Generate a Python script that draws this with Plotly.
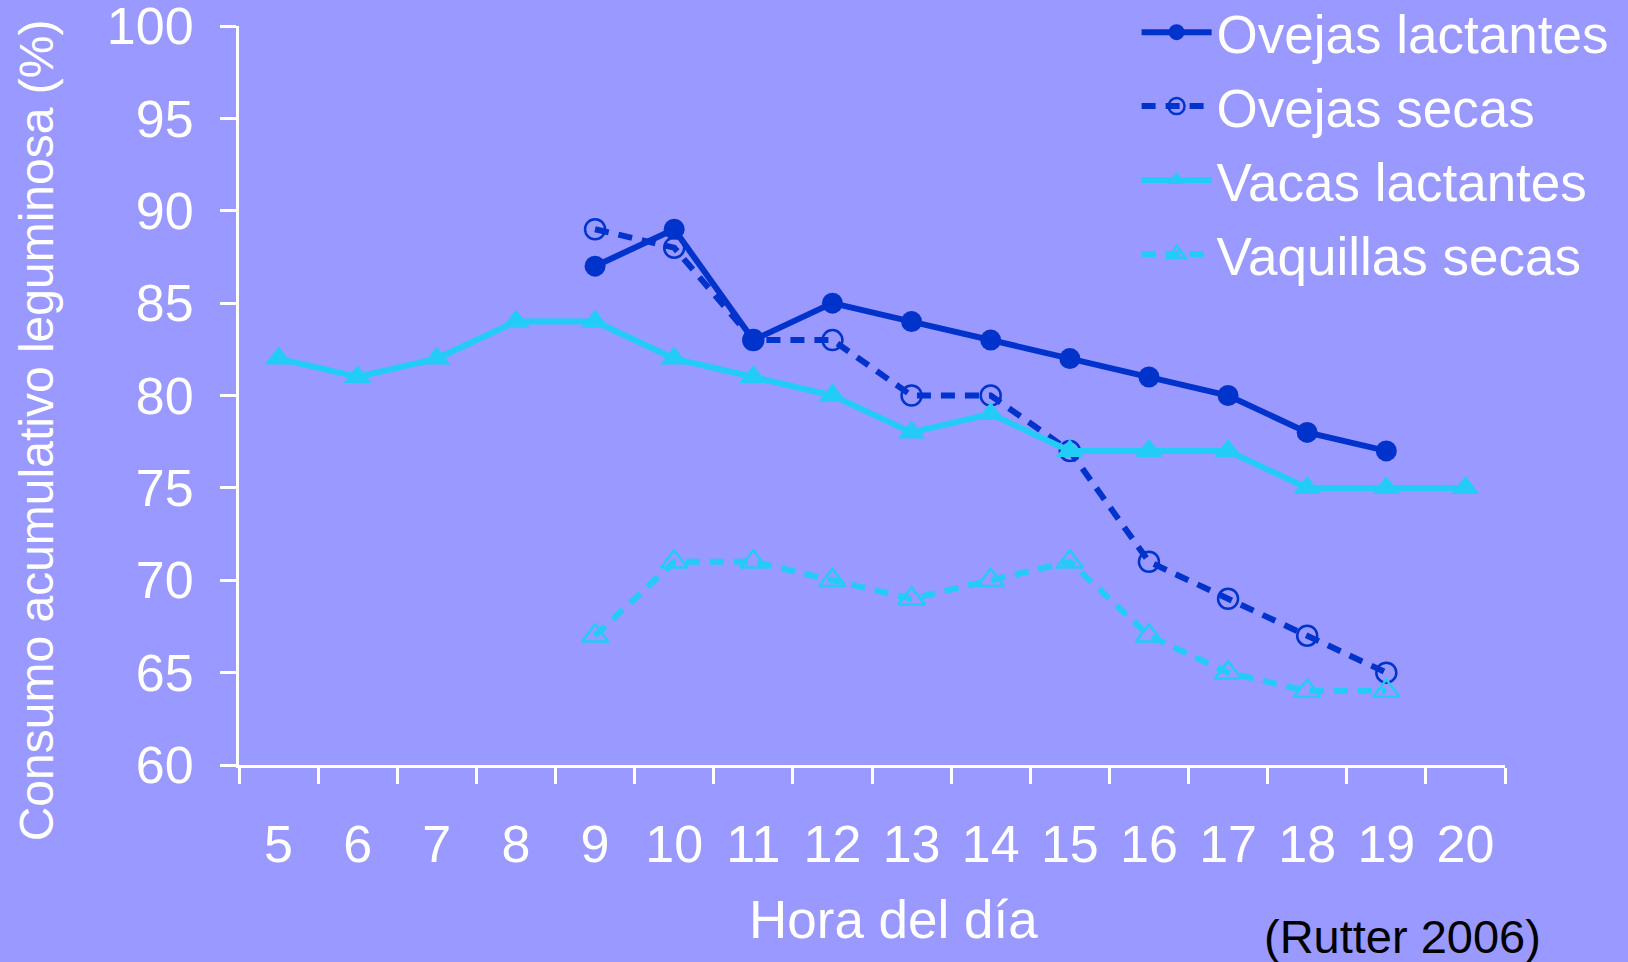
import plotly.graph_objects as go

hours = [str(h) for h in range(5, 21)]

ov_lact_x = ["9", "10", "11", "12", "13", "14", "15", "16", "17", "18", "19"]
ov_lact_y = [87, 89, 83, 85, 84, 83, 82, 81, 80, 78, 77]

ov_secas_x = ["9", "10", "11", "12", "13", "14", "15", "16", "17", "18", "19"]
ov_secas_y = [89, 88, 83, 83, 80, 80, 77, 71, 69, 67, 65]

vac_lact_x = hours
vac_lact_y = [82, 81, 82, 84, 84, 82, 81, 80, 78, 79, 77, 77, 77, 75, 75, 75]

vaq_secas_x = ["9", "10", "11", "12", "13", "14", "15", "16", "17", "18", "19"]
vaq_secas_y = [67, 71, 71, 70, 69, 70, 71, 67, 65, 64, 64]

y_ticks = [60, 65, 70, 75, 80, 85, 90, 95, 100]

BG = "#9999FF"
DARK = "#0033CC"
CYAN = "#22CCF7"
FONT = "Liberation Sans, Arial, sans-serif"

fig = go.Figure()
fig.add_trace(go.Scatter(
    x=ov_lact_x, y=ov_lact_y, name="Ovejas lactantes", mode="lines+markers",
    legendgroup="a",
    line=dict(color=DARK, width=6),
    marker=dict(symbol="circle", size=21, color=DARK)))
fig.add_trace(go.Scatter(
    x=ov_secas_x, y=ov_secas_y, name="Ovejas secas", mode="lines+markers",
    legendgroup="b",
    line=dict(color=DARK, width=6, dash="14px,10px"),
    marker=dict(symbol="circle-open", size=20, color=DARK, line=dict(width=2.5, color=DARK))))
fig.add_trace(go.Scatter(
    x=vac_lact_x, y=vac_lact_y, name="Vacas lactantes", mode="lines+markers",
    legendgroup="c",
    line=dict(color=CYAN, width=6),
    marker=dict(symbol="triangle-up", size=24, color=CYAN)))
fig.add_trace(go.Scatter(
    x=vaq_secas_x, y=vaq_secas_y, name="Vaquillas secas", mode="lines+markers",
    legendgroup="d",
    line=dict(color=CYAN, width=6, dash="14px,10px"),
    marker=dict(symbol="triangle-up-open", size=23, color=CYAN, line=dict(width=2.5, color=CYAN))))

fig.update_layout(
    width=1628, height=962,
    paper_bgcolor=BG, plot_bgcolor=BG,
    margin=dict(l=239, r=123, t=26, b=197, autoexpand=False),
    font=dict(family=FONT, color="white", size=52),
    showlegend=True,
    legend=dict(x=0.709, y=1.047, xanchor="left", yanchor="top",
                bgcolor="rgba(0,0,0,0)", font=dict(size=53, color="white"),
                itemwidth=70, tracegroupgap=2),
    xaxis=dict(
        type="category", categoryorder="array", categoryarray=hours,
        range=[-0.5, 15.5], tickson="boundaries",
        showline=True, linecolor="white", linewidth=3,
        ticks="outside", ticklen=16, tickwidth=3, tickcolor="white",
        showgrid=False, zeroline=False, ticklabeloverflow="allow",
        tickfont=dict(size=52, color="white"), ticklabelstandoff=32,
    ),
    yaxis=dict(
        range=[60, 100], tickvals=y_ticks,
        showline=True, linecolor="white", linewidth=3,
        ticks="outside", ticklen=16, tickwidth=3, tickcolor="white",
        showgrid=False, zeroline=False, ticklabeloverflow="allow",
        tickfont=dict(size=52, color="white"), ticklabelstandoff=16,
    ),
    annotations=[
        dict(text="Consumo acumulativo leguminosa (%)", xref="paper", yref="paper",
             x=-0.1603, y=0.453, xanchor="center", yanchor="middle", textangle=-90,
             showarrow=False, font=dict(size=48, color="white", family=FONT)),
        dict(text="Hora del día", xref="paper", yref="paper",
             x=0.517, y=-0.2084, xanchor="center", yanchor="middle",
             showarrow=False, font=dict(size=53, color="white", family=FONT)),
        dict(text="(Rutter 2006)", xref="paper", yref="paper", x=1.03, y=-0.232,
             xanchor="right", yanchor="middle", showarrow=False,
             font=dict(size=47, color="black", family=FONT)),
    ],
)

fig.write_html("out.html", config={"displayModeBar": False},
               post_script="document.body.style.margin='0';")
